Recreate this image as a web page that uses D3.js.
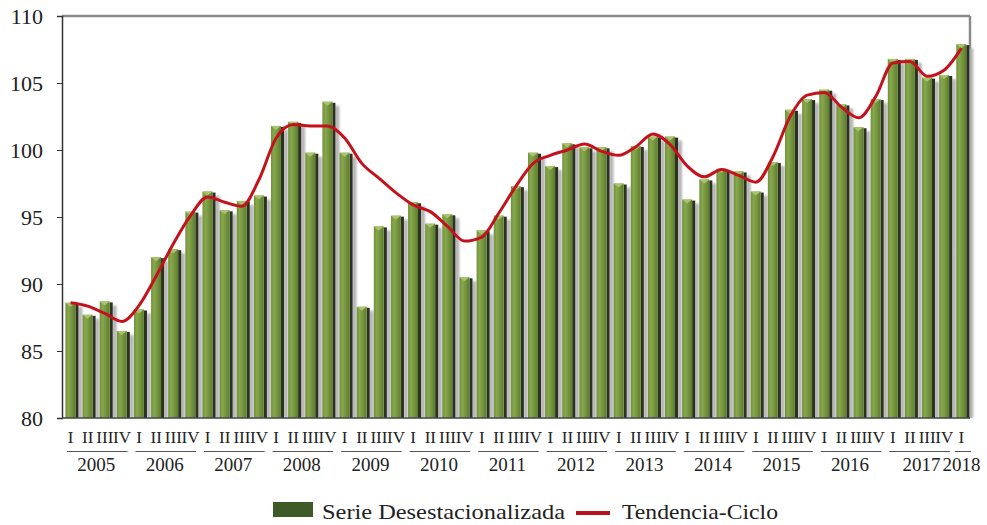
<!DOCTYPE html>
<html>
<head>
<meta charset="utf-8">
<script src="https://cdn.jsdelivr.net/npm/d3@7/dist/d3.min.js"></script>
<style>
  html, body { margin: 0; padding: 0; background: #fff; }
  svg { display: block; }
</style>
</head>
<body>
<svg id="chart" width="987" height="525"></svg>
<script>
const years = ['2005','2006','2007','2008','2009','2010','2011','2012','2013','2014','2015','2016','2017','2018'];
const quarterLabels = ['I','II','III','IV'];
const yTicks = [80, 85, 90, 95, 100, 105, 110];
const serie = [
  88.6, 87.7, 88.7, 86.5,
  88.1, 92.0, 92.6, 95.4,
  96.9, 95.5, 96.2, 96.6,
  101.8, 102.1, 99.8, 103.6,
  99.8, 88.3, 94.3, 95.1,
  96.1, 94.5, 95.2, 90.5,
  94.0, 95.1, 97.3, 99.8,
  98.8, 100.5, 100.2, 100.2,
  97.5, 100.3, 101.0, 101.0,
  96.3, 97.8, 98.6, 98.4,
  96.9, 99.1, 103.0, 103.8,
  104.5, 103.4, 101.7, 103.8,
  106.8, 106.8, 105.4, 105.6,
  107.9
];
const tendencia = [
  88.6, 88.35, 87.8, 87.2,
  88.4, 90.6, 93.0, 95.1,
  96.5, 96.1, 95.8, 97.8,
  100.9, 101.9, 101.8, 101.8,
  100.9, 99.0, 97.9, 96.8,
  95.9, 95.4, 94.3, 93.2,
  93.5, 95.3, 97.3, 99.0,
  99.6, 100.0, 100.45, 99.9,
  99.6, 100.25, 101.2, 100.4,
  98.8, 98.0, 98.55, 98.1,
  97.6, 99.5, 102.5, 104.1,
  104.3, 103.2, 102.4, 104.0,
  106.5, 106.6, 105.5, 105.97,
  107.6
];
const legendLabels = ['Serie Desestacionalizada', 'Tendencia-Ciclo'];

const FONT = '"Liberation Serif"';
const svg = d3.select('#chart');
const L = 62, R = 970, T = 16, B = 418;
const idx = d3.range(serie.length);
const x = d3.scaleBand().domain(idx).range([L, R]).padding(0);
const y = d3.scaleLinear().domain([80, 110]).range([B, T]);
const bw = x.bandwidth();

const defs = svg.append('defs');
const g1 = defs.append('linearGradient').attr('id', 'face').attr('x1', 0).attr('x2', 1).attr('y1', 0).attr('y2', 0);
g1.append('stop').attr('offset', '0%').attr('stop-color', '#6f8f3a');
g1.append('stop').attr('offset', '30%').attr('stop-color', '#88a84e');
g1.append('stop').attr('offset', '100%').attr('stop-color', '#5d7d2c');
const blur = defs.append('filter').attr('id', 'blur').attr('x', '-50%').attr('width', '200%');
blur.append('feGaussianBlur').attr('stdDeviation', 0.8);

// frame (top and right)
svg.append('line').attr('x1', L).attr('x2', R).attr('y1', T).attr('y2', T)
  .attr('stroke', '#8a8a8a').attr('stroke-width', 2.5);
svg.append('line').attr('x1', R).attr('x2', R).attr('y1', T).attr('y2', B)
  .attr('stroke', '#8a8a8a').attr('stroke-width', 2.5);

const bars = svg.append('g');
bars.selectAll('rect.sh').data(idx).join('rect').attr('class', 'sh')
  .attr('x', i => x(i) + bw * 0.93)
  .attr('y', i => y(serie[i]) + 4)
  .attr('width', bw * 0.26)
  .attr('height', i => B - y(serie[i]) - 4)
  .attr('fill', '#b4b4b4')
  .attr('filter', 'url(#blur)');
bars.selectAll('rect.side').data(idx).join('rect').attr('class', 'side')
  .attr('x', i => x(i) + bw * 0.78)
  .attr('y', i => y(serie[i]) + 1)
  .attr('width', bw * 0.18)
  .attr('height', i => B - y(serie[i]) - 1)
  .attr('fill', '#2c3222');
bars.selectAll('rect.face').data(idx).join('rect').attr('class', 'face')
  .attr('x', i => x(i) + bw * 0.2)
  .attr('y', i => y(serie[i]))
  .attr('width', bw * 0.58)
  .attr('height', i => B - y(serie[i]))
  .attr('fill', 'url(#face)');
bars.selectAll('path.cap').data(idx).join('path').attr('class', 'cap')
  .attr('d', i => {
    const x0 = x(i) + bw * 0.2, x1 = x0 + bw * 0.58, yt = y(serie[i]);
    return `M${x0},${yt}L${x1},${yt}L${(x0 + x1) / 2},${yt + 4}Z`;
  })
  .attr('fill', '#a9c46c');

// trend line
const line = d3.line().x(i => x(i) + bw / 2).y(i => y(tendencia[i])).curve(d3.curveMonotoneX);
svg.append('path').datum(idx).attr('d', line)
  .attr('fill', 'none').attr('stroke', '#c4121c').attr('stroke-width', 3)
  .attr('stroke-linejoin', 'round');

// y axis
const yAxis = d3.axisLeft(y).tickValues(yTicks).tickSize(5).tickPadding(14);
const ya = svg.append('g').attr('transform', `translate(${L},0)`).call(yAxis);
ya.attr('font-family', null);
ya.select('.domain').attr('stroke', '#333').attr('stroke-width', 1.5);
ya.selectAll('.tick line').attr('stroke', '#333');
ya.selectAll('.tick text').style('font-size', '22px').style('font-family', FONT).attr('fill', '#222');

// bottom axis line
svg.append('line').attr('x1', L).attr('x2', R).attr('y1', B).attr('y2', B)
  .attr('stroke', '#444').attr('stroke-width', 1.5);

// quarter labels
svg.append('g').selectAll('text').data(idx).join('text')
  .attr('x', i => x(i) + bw / 2)
  .attr('y', 443)
  .attr('text-anchor', 'middle')
  .style('font-size', '17px')
  .style('font-family', FONT).attr('fill', '#222')
  .text(i => quarterLabels[i % 4]);

// year groups
const yg = svg.append('g');
years.forEach((yr, k) => {
  const first = k * 4;
  const last = Math.min(first + 3, serie.length - 1);
  const lastYear = k === years.length - 1;
  const xs = x(first) + (lastYear ? 2 : 5);
  const xe = x(last) + bw - (lastYear ? -1 : 3);
  yg.append('line').attr('x1', xs).attr('x2', xe).attr('y1', 451.5).attr('y2', 451.5)
    .attr('stroke', '#555').attr('stroke-width', 1);
  yg.append('text').attr('x', (x(first) + x(last) + bw) / 2 + (k === 12 ? 3 : 0))
    .attr('y', 471).attr('text-anchor', 'middle').style('font-size', '19px')
    .style('font-family', FONT).attr('fill', '#222').text(yr);
});

// legend
const lg = svg.append('g');
lg.append('rect').attr('x', 273).attr('y', 502).attr('width', 40).attr('height', 15).attr('fill', '#3d5a26');
lg.append('text').attr('x', 322).attr('y', 519).style('font-size', '22px')
  .style('font-family', FONT).attr('fill', '#222')
  .attr('textLength', 243).attr('lengthAdjust', 'spacingAndGlyphs').text(legendLabels[0]);
lg.append('line').attr('x1', 576).attr('x2', 610).attr('y1', 513).attr('y2', 513)
  .attr('stroke', '#b8101c').attr('stroke-width', 4);
lg.append('text').attr('x', 622).attr('y', 519).style('font-size', '22px')
  .style('font-family', FONT).attr('fill', '#222')
  .attr('textLength', 156).attr('lengthAdjust', 'spacingAndGlyphs').text(legendLabels[1]);
</script>
</body>
</html>
